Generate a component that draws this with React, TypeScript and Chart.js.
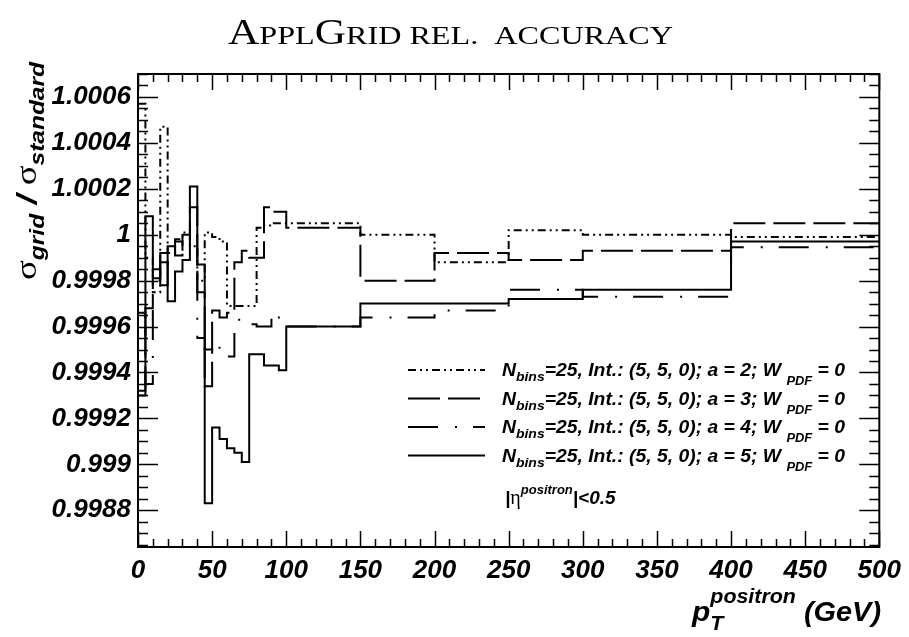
import React, { useEffect, useRef } from 'react';
import { Chart, registerables } from 'chart.js';

Chart.register(...registerables);

// Bin edges in pT (GeV)
const binEdges = [0, 5, 10, 15, 20, 25, 30, 35, 40, 45, 50, 55, 60, 65, 70, 75, 80, 85, 90, 95, 100, 150, 200, 250, 300, 400, 500];

// Ratio sigma_grid / sigma_standard per bin, one list per interpolation order a
const ratioA2 = [1.00057, 0.9999, 0.99975, 1.00047, 0.99992, 0.99998, 1.00001, 0.99995, 0.9998, 1.00001, 0.99999, 0.99997, 0.99969, 0.99969, 0.99969, 0.99969, 1.00003, 1.00004, 1.00005, 1.00005, 1.00005, 1.0, 0.99988, 1.00002, 1.0, 0.99999];
const ratioA3 = [0.99932, 0.99968, 0.99985, 0.99978, 0.99995, 0.99991, 1.0, 1.00012, 0.99975, 0.99934, 0.99967, 0.99964, 0.99966, 0.99988, 0.99993, 0.9999, 0.9999, 1.00012, 1.0001, 1.0001, 1.00003, 0.9998, 0.99992, 0.99989, 0.99993, 1.00005];
const ratioA4 = [0.99966, 0.99935, 0.9998, 0.99988, 0.99983, 0.99997, 0.99993, 0.99992, 0.99955, 0.9995, 0.99953, 0.9995, 0.99947, 0.99963, 0.99961, 0.99961, 0.9996, 0.9996, 0.99966, 0.99963, 0.9996, 0.99964, 0.99967, 0.99976, 0.99973, 0.999945];
const ratioA5 = [0.9993, 1.00008, 0.99981, 0.99992, 0.99971, 0.99984, 0.99989, 1.00021, 0.99987, 0.99883, 0.99916, 0.99911, 0.99907, 0.99905, 0.99901, 0.99948, 0.99948, 0.99943, 0.99943, 0.99941, 0.9996, 0.9997, 0.9997, 0.99972, 0.99976, 0.99997];

const orders = [2, 3, 4, 5];

const yTicks = [0.9988, 0.999, 0.9992, 0.9994, 0.9996, 0.9998, 1.0, 1.0002, 1.0004, 1.0006];
const yTickLabels = ['0.9988', '0.999', '0.9992', '0.9994', '0.9996', '0.9998', '1', '1.0002', '1.0004', '1.0006'];
const xTicks = [0, 50, 100, 150, 200, 250, 300, 350, 400, 450, 500];
const xTickLabels = ['0', '50', '100', '150', '200', '250', '300', '350', '400', '450', '500'];

const Y_MIN = 0.99864;
const Y_MAX = 1.0007;

const SANS = '"Liberation Sans", Arial, Helvetica, sans-serif';
const SERIF = '"Liberation Serif", "Times New Roman", serif';

type Part = { t: string; size: number; dy?: number; stack?: boolean; family?: string; style?: string };

function fontOf(p: Part) {
  const style = p.style ?? 'italic bold';
  return `${style} ${p.size}px ${p.family ?? SANS}`;
}

function measureParts(ctx: CanvasRenderingContext2D, parts: Part[]) {
  let x = 0;
  let pending = 0;
  for (const p of parts) {
    ctx.font = fontOf(p);
    const w = ctx.measureText(p.t).width;
    if (p.stack) pending = Math.max(pending, w);
    else {
      x += Math.max(w, pending);
      pending = 0;
    }
  }
  return x + pending;
}

function drawParts(
  ctx: CanvasRenderingContext2D,
  parts: Part[],
  x: number,
  y: number,
  align: 'left' | 'right' | 'center',
  width?: number
) {
  const natural = measureParts(ctx, parts);
  const sx = width ? width / natural : 1;
  const total = natural * sx;
  const x0 = align === 'left' ? x : align === 'right' ? x - total : x - total / 2;
  ctx.save();
  ctx.translate(x0, y);
  ctx.scale(sx, 1);
  ctx.textAlign = 'left';
  ctx.textBaseline = 'alphabetic';
  ctx.fillStyle = '#000';
  let cx = 0;
  let pending = 0;
  for (const p of parts) {
    ctx.font = fontOf(p);
    const w = ctx.measureText(p.t).width;
    ctx.fillText(p.t, cx, p.dy ?? 0);
    if (p.stack) pending = Math.max(pending, w);
    else {
      cx += Math.max(w, pending);
      pending = 0;
    }
  }
  ctx.restore();
}

const dashes: Record<number, number[]> = {
  2: [8, 4, 2, 4, 2, 4],
  3: [32, 8],
  4: [30, 17, 2, 16],
  5: [],
};

const seriesByOrder: Record<number, number[]> = { 2: ratioA2, 3: ratioA3, 4: ratioA4, 5: ratioA5 };

// Frame, inward ticks, titles and legend
const decorPlugin = {
  id: 'decor',
  afterDraw(chart: any) {
    const ctx: CanvasRenderingContext2D = chart.ctx;
    const { left, right, top, bottom } = chart.chartArea;
    const xs = chart.scales.x;
    const ys = chart.scales.y;
    ctx.save();
    ctx.strokeStyle = '#000';
    ctx.setLineDash([]);

    // ticks
    ctx.lineWidth = 1.5;
    ctx.beginPath();
    for (let k = Math.ceil(Y_MIN / 0.00005); k * 0.00005 <= Y_MAX + 1e-12; k++) {
      const v = k * 0.00005;
      const py = Math.round(ys.getPixelForValue(v)) + 0.5;
      const len = k % 4 === 0 ? 20 : 10;
      ctx.moveTo(left, py);
      ctx.lineTo(left + len, py);
      ctx.moveTo(right, py);
      ctx.lineTo(right - len, py);
    }
    for (let v = 0; v <= 500; v += 10) {
      const px = Math.round(xs.getPixelForValue(v)) + 0.5;
      const len = v % 50 === 0 ? 16 : 8;
      ctx.moveTo(px, bottom);
      ctx.lineTo(px, bottom - len);
      ctx.moveTo(px, top);
      ctx.lineTo(px, top + len);
    }
    ctx.stroke();

    // frame
    ctx.lineWidth = 2;
    ctx.strokeRect(left, top, right - left, bottom - top);

    // title in small caps
    drawParts(
      ctx,
      [
        { t: 'A', size: 35, family: SERIF, style: 'normal' },
        { t: 'PPL', size: 26, family: SERIF, style: 'normal' },
        { t: 'G', size: 35, family: SERIF, style: 'normal' },
        { t: 'RID', size: 26, family: SERIF, style: 'normal' },
        { t: ' REL.  ACCURACY', size: 26, family: SERIF, style: 'normal' },
      ],
      228,
      44,
      'left',
      445
    );

    // y title
    ctx.save();
    ctx.translate(36, 280);
    ctx.rotate(-Math.PI / 2);
    drawParts(
      ctx,
      [
        { t: 'σ', size: 30, style: 'normal', family: SERIF },
        { t: 'grid', size: 20, dy: 8 },
        { t: ' / ', size: 28 },
        { t: 'σ', size: 30, style: 'normal', family: SERIF },
        { t: 'standard', size: 20, dy: 8 },
      ],
      0,
      0,
      'left',
      218
    );
    ctx.restore();

    // x title
    drawParts(
      ctx,
      [
        { t: 'p', size: 28 },
        { t: 'positron', size: 20, dy: -18, stack: true },
        { t: 'T', size: 20, dy: 9 },
        { t: ' (GeV)', size: 27 },
      ],
      881,
      621,
      'right',
      189
    );

    // legend
    const rows = [370, 398.5, 427, 455.5];
    chart.data.datasets.forEach((ds: any, i: number) => {
      const cy = rows[i];
      ctx.save();
      ctx.lineWidth = 2;
      ctx.setLineDash(ds.borderDash || []);
      ctx.beginPath();
      ctx.moveTo(408, cy);
      ctx.lineTo(485, cy);
      ctx.stroke();
      ctx.restore();
      drawParts(
        ctx,
        [
          { t: 'N', size: 18 },
          { t: 'bins', size: 13, dy: 5 },
          { t: `=25, Int.: (5, 5, 0); a = ${orders[i]}; W `, size: 18 },
          { t: 'PDF', size: 12, dy: 9 },
          { t: ' = 0', size: 18 },
        ],
        502,
        cy + 6,
        'left',
        343
      );
    });

    drawParts(
      ctx,
      [
        { t: '|', size: 19 },
        { t: 'η', size: 20, style: 'normal', family: SERIF },
        { t: 'positron', size: 13, dy: -10 },
        { t: '|<0.5', size: 19 },
      ],
      505,
      504,
      'left'
    );
    ctx.restore();
  },
};

export default function App() {
  const canvasRef = useRef<HTMLCanvasElement | null>(null);

  useEffect(() => {
    if (!canvasRef.current) return;
    // one point per bin edge; with 'before' stepping each bin's value spans [edge_i, edge_i+1]
    const datasets = orders.map((a) => {
      const vals = seriesByOrder[a];
      return {
        label: `a = ${a}`,
        data: binEdges.map((e, i) => ({ x: e, y: vals[Math.min(i, vals.length - 1)] })),
        stepped: 'before' as const,
        borderColor: '#000',
        borderWidth: 2,
        borderDash: dashes[a],
        borderCapStyle: 'butt' as const,
        pointRadius: 0,
        fill: false,
      };
    });

    const chart = new Chart(canvasRef.current, {
      type: 'line',
      data: { datasets },
      options: {
        animation: false,
        responsive: false,
        devicePixelRatio: 1,
        layout: { padding: { top: 74, right: 29, left: 0, bottom: 0 }, autoPadding: false },
        plugins: { legend: { display: false }, tooltip: { enabled: false }, title: { display: false } },
        scales: {
          x: {
            type: 'linear',
            min: 0,
            max: 500,
            grid: { display: false, drawTicks: false },
            border: { display: false },
            afterBuildTicks: (scale: any) => {
              scale.ticks = xTicks.map((v) => ({ value: v }));
            },
            afterFit: (scale: any) => {
              scale.height = 90;
            },
            ticks: {
              padding: 8,
              maxRotation: 0,
              autoSkip: false,
              color: '#000',
              font: { family: SANS, size: 26, style: 'italic', weight: 'bold' },
              callback: (_v: any, i: number) => xTickLabels[i],
            },
          },
          y: {
            type: 'linear',
            min: Y_MIN,
            max: Y_MAX,
            grid: { display: false, drawTicks: false },
            border: { display: false },
            afterBuildTicks: (scale: any) => {
              scale.ticks = yTicks.map((v) => ({ value: v }));
            },
            afterFit: (scale: any) => {
              scale.width = 138;
            },
            ticks: {
              padding: 7,
              autoSkip: false,
              color: '#000',
              font: { family: SANS, size: 26, style: 'italic', weight: 'bold' },
              callback: (_v: any, i: number) => yTickLabels[i],
            },
          },
        },
      },
      plugins: [decorPlugin],
    });
    return () => chart.destroy();
  }, []);

  return (
    <div style={{ position: 'absolute', left: 0, top: 0, width: 909, height: 637, background: '#fff' }}>
      <canvas ref={canvasRef} width={909} height={637} style={{ display: 'block' }} />
    </div>
  );
}
